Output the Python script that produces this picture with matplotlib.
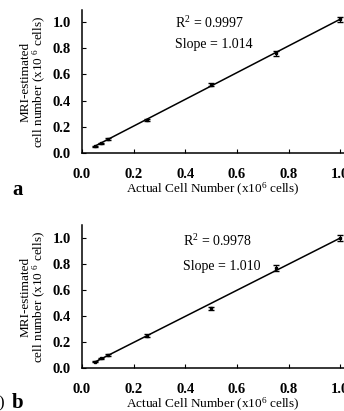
#!/usr/bin/env python3
import numpy as np
import matplotlib
matplotlib.use("Agg")
import matplotlib.pyplot as plt

plt.rcParams['font.family'] = ['Liberation Serif', 'DejaVu Serif']
plt.rcParams['mathtext.fontset'] = 'custom'
plt.rcParams['mathtext.rm'] = 'Liberation Serif'
plt.rcParams['mathtext.it'] = 'Liberation Serif:italic'

# panel a data
actual_a = [0.05, 0.075, 0.1, 0.25, 0.5, 0.75, 1.0]
mri_a = [0.05, 0.075, 0.11, 0.25, 0.52, 0.76, 1.02]
err_a = [0.005, 0.005, 0.008, 0.008, 0.01, 0.02, 0.02]
r2_a = "0.9997"
slope_a = "1.014"

# panel b data
actual_b = [0.05, 0.075, 0.1, 0.25, 0.5, 0.75, 1.0]
mri_b = [0.05, 0.075, 0.1, 0.25, 0.46, 0.77, 1.0]
err_b = [0.005, 0.005, 0.005, 0.008, 0.01, 0.02, 0.02]
r2_b = "0.9978"
slope_b = "1.010"

ticks = [0.0, 0.2, 0.4, 0.6, 0.8, 1.0]
xlab = "Actual Cell Number (x10$^6$ cells)"
ylab = "MRI-estimated\ncell number (x10 $^6$ cells)"

fig = plt.figure(figsize=(3.44, 4.11), dpi=100)
ax_a = fig.add_axes([82/344, 1-153/411, 262/344, 143/411])
ax_b = fig.add_axes([82/344, 1-368/411, 262/344, 143/411])


def draw(ax, x, y, e, r2, slope, ymax, txt_x, txt_y1, txt_y2):
    x = np.array(x)
    y = np.array(y)
    m, b = np.polyfit(x, y, 1)
    ax.plot([x.min(), x.max()], [m*x.min()+b, m*x.max()+b], color='black', lw=1.1)
    ax.errorbar(x, y, yerr=e, fmt='s', ms=2, color='black', ecolor='black',
                elinewidth=0.8, capsize=2)
    ax.set_xlim(0, 1.015)
    ax.set_ylim(0, ymax)
    ax.set_xticks(ticks)
    ax.set_yticks(ticks)
    ax.set_xticklabels(["%.1f" % t for t in ticks], fontsize=10.5, fontweight='bold')
    ax.set_yticklabels(["%.1f" % t for t in ticks], fontsize=10.5, fontweight='bold')
    ax.tick_params(axis='x', direction='in', length=3, pad=11)
    ax.tick_params(axis='y', direction='in', length=3, pad=8)
    for s in ['top', 'right']:
        ax.spines[s].set_visible(False)
    ax.spines['left'].set_linewidth(1.1)
    ax.spines['bottom'].set_linewidth(1.1)
    ax.set_xlabel(xlab, fontsize=9.5, labelpad=0)
    ax.set_ylabel(ylab, fontsize=9.5, labelpad=3, linespacing=1.0)
    ax.text(txt_x, txt_y1, "R$^2$ = " + r2, fontsize=10, va='center')
    ax.text(txt_x, txt_y2, "Slope = " + slope, fontsize=10, va='center')


draw(ax_a, actual_a, mri_a, err_a, r2_a, slope_a, 1.09, 0.36, 0.99, 0.83)
draw(ax_b, actual_b, mri_b, err_b, r2_b, slope_b, 1.1, 0.39, 0.98, 0.78)

fig.text(12/344, 1-190/411, "a", fontsize=15, fontweight='bold', va='center')
fig.text(12/344, 1-403/411, "b", fontsize=15, fontweight='bold', va='center')
fig.text(-2/344, 1-403/411, ")", fontsize=12, va='center')

plt.savefig('out.png', dpi=100)
